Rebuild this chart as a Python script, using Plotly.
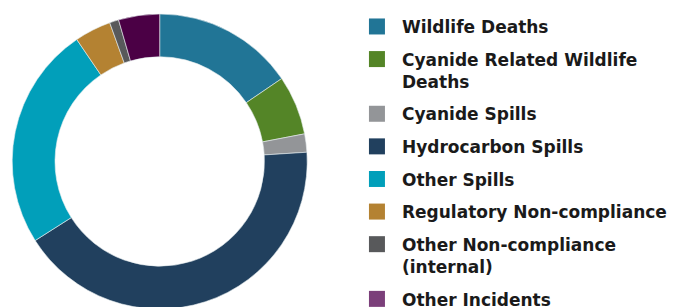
import plotly.graph_objects as go

labels = ["Wildlife Deaths", "Cyanide Related Wildlife<br>Deaths", "Cyanide Spills",
          "Hydrocarbon Spills", "Other Spills", "Regulatory Non-compliance",
          "Other Non-compliance<br>(internal)", "Other Incidents"]
values = [31, 13, 4, 84, 49, 8, 2, 9]
slice_colors = ["#217596", "#548527", "#939598", "#21405e", "#019fba", "#b48232", "#58595b", "#4b0045"]
legend_colors = ["#217596", "#548527", "#939598", "#21405e", "#019fba", "#b48232", "#58595b", "#7b3f7a"]

fig = go.Figure()
fig.add_trace(go.Pie(
    labels=labels, values=values, hole=0.71, sort=False, direction="clockwise",
    rotation=0, textinfo="none", showlegend=False,
    marker=dict(colors=slice_colors, line=dict(color="#e8eef0", width=0.6)),
    domain=dict(x=[0.0062, 0.4413], y=[0, 1]),
))
for i, (lab, col) in enumerate(zip(labels, legend_colors)):
    fig.add_trace(go.Scatter(
        x=[None], y=[None], mode="markers", name=lab, legendgroup=f"g{i}",
        marker=dict(symbol="square", size=16, color=col, line=dict(width=0)),
    ))

fig.update_layout(
    width=678, height=307,
    margin=dict(l=0, r=0, t=6, b=6, autoexpand=False),
    paper_bgcolor="white", plot_bgcolor="white",
    xaxis=dict(visible=False), yaxis=dict(visible=False),
    legend=dict(
        xref="container", yref="container", x=0.5073, y=0.997,
        xanchor="left", yanchor="top", valign="top",
        tracegroupgap=7.5, itemwidth=40, maxheight=600,
        font=dict(family="DejaVu Sans", size=17, color="#1a1a1a", weight="bold"),
        bgcolor="rgba(0,0,0,0)",
    ),
)
fig.write_html("out.html")
